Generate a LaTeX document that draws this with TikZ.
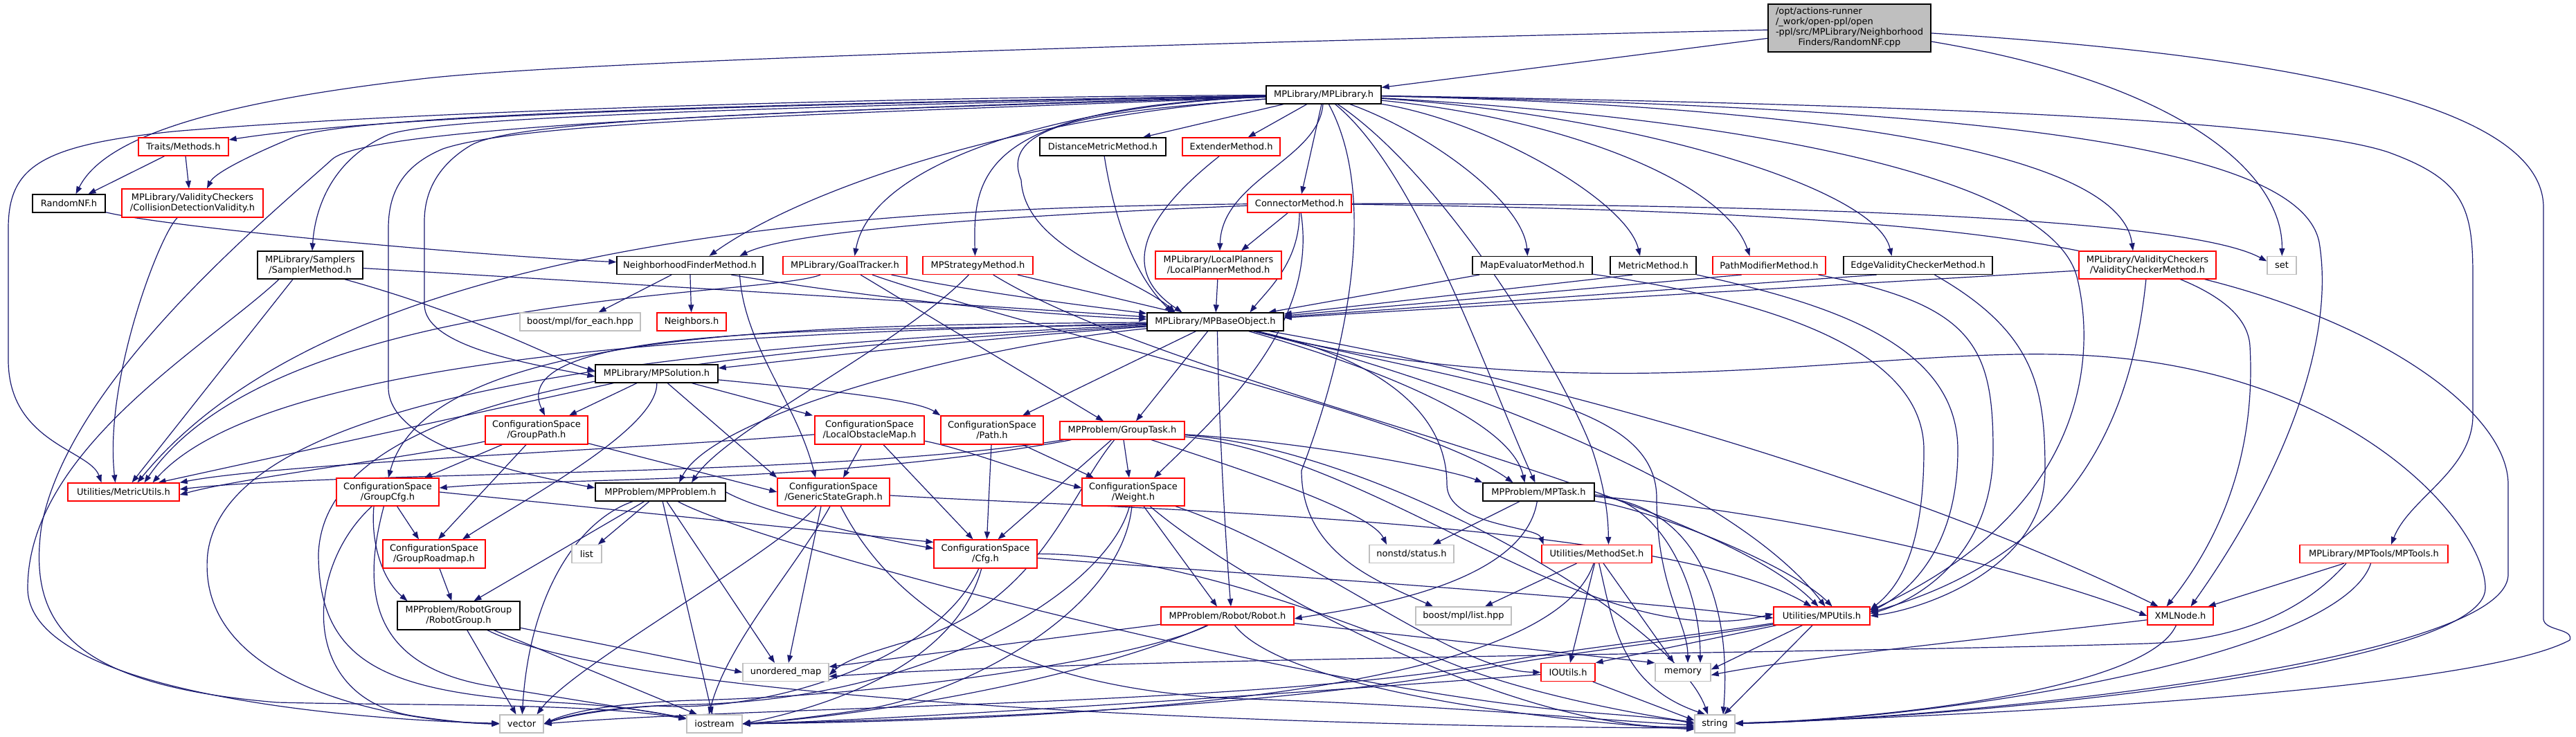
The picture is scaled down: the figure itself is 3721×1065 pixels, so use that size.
\documentclass[tikz,border=0pt]{standalone}
\usepackage{fontspec}
\setmainfont{DejaVu Sans}
\usetikzlibrary{arrows.meta}
\definecolor{navy}{HTML}{191970}
\definecolor{gbord}{HTML}{BFBFBF}
\definecolor{rootfill}{HTML}{BFBFBF}
\pgfdeclarelayer{background}
\pgfsetlayers{background,main}
\newcommand\nodefont{\fontsize{13}{15}\selectfont}
\newcommand\mk[7]{\node[#1, minimum width=#5pt, minimum height=#6pt] (#2) at (#3,#4) {#7};}
\tikzset{
  bx/.style={rectangle, inner sep=0pt, fill=white, line width=1.3pt, font=\nodefont, align=center, text=black},
  bk/.style={bx, draw=black},
  rd/.style={bx, draw=red},
  gy/.style={bx, draw=gbord},
  rt/.style={bx, draw=black, fill=rootfill},
  edg/.style={draw=navy, line width=1.2pt, -{Triangle[length=11pt,width=8pt]}},
}
\begin{document}
\begin{tikzpicture}[x=1pt,y=-1pt]
\useasboundingbox (0,0) rectangle (3721,1065);
% ---------------- nodes ----------------
\mk{rt}{R}{2671.5}{40.5}{235}{69}{\begin{tabular}{@{}l@{}}/opt/actions-runner\\/\_work/open-ppl/open\\-ppl/src/MPLibrary/Neighborhood\\\multicolumn{1}{@{}c@{}}{Finders/RandomNF.cpp}\end{tabular}}
\mk{bk}{M}{1912}{137}{166}{26}{MPLibrary/MPLibrary.h}
\mk{rd}{Traits}{265}{212}{130}{26}{Traits/Methods.h}
\mk{bk}{DM}{1593}{212}{182}{26}{DistanceMetricMethod.h}
\mk{rd}{Ext}{1778.5}{212}{141}{26}{ExtenderMethod.h}
\mk{rd}{Conn}{1877}{294}{150}{26}{ConnectorMethod.h}
\mk{bk}{RNFh}{99.5}{294}{105}{26}{RandomNF.h}
\mk{rd}{CDV}{278}{293.5}{204}{41}{MPLibrary/ValidityCheckers\\/CollisionDetectionValidity.h}
\mk{bk}{S}{448}{383}{152}{40}{MPLibrary/Samplers\\/SamplerMethod.h}
\mk{bk}{NFM}{996.5}{383.5}{211}{26}{NeighborhoodFinderMethod.h}
\mk{rd}{GT}{1220.5}{383.5}{179}{26}{MPLibrary/GoalTracker.h}
\mk{rd}{MPS}{1412.5}{383.5}{159}{26}{MPStrategyMethod.h}
\mk{rd}{LP}{1760}{383}{182}{40}{MPLibrary/LocalPlanners\\/LocalPlannerMethod.h}
\mk{bk}{ME}{2213.5}{383.5}{173}{26}{MapEvaluatorMethod.h}
\mk{bk}{MetM}{2388}{383.5}{124}{26}{MetricMethod.h}
\mk{rd}{PM}{2555.5}{383.5}{163}{26}{PathModifierMethod.h}
\mk{bk}{EVC}{2770.5}{383.5}{215}{26}{EdgeValidityCheckerMethod.h}
\mk{rd}{VCM}{3102}{383}{198}{40}{MPLibrary/ValidityCheckers\\/ValidityCheckerMethod.h}
\mk{gy}{set}{3296}{383.5}{42}{26}{set}
\mk{gy}{FE}{838}{465}{174}{26}{boost/mpl/for\_each.hpp}
\mk{rd}{Nb}{999}{465}{100}{26}{Neighbors.h}
\mk{bk}{B}{1755.5}{465}{197}{26}{MPLibrary/MPBaseObject.h}
\mk{bk}{Sol}{948.5}{540}{177}{26}{MPLibrary/MPSolution.h}
\mk{rd}{GPath}{775}{621.5}{148}{41}{ConfigurationSpace\\/GroupPath.h}
\mk{rd}{LOM}{1256}{621.5}{158}{41}{ConfigurationSpace\\/LocalObstacleMap.h}
\mk{rd}{Path}{1433}{621.5}{148}{41}{ConfigurationSpace\\/Path.h}
\mk{rd}{GTask}{1621}{622}{180}{26}{MPProblem/GroupTask.h}
\mk{rd}{MU}{178.5}{711}{161}{26}{Utilities/MetricUtils.h}
\mk{rd}{GCfg}{560}{711}{148}{40}{ConfigurationSpace\\/GroupCfg.h}
\mk{bk}{MPP}{954}{711}{188}{26}{MPProblem/MPProblem.h}
\mk{rd}{GSG}{1204}{711}{162}{40}{ConfigurationSpace\\/GenericStateGraph.h}
\mk{rd}{W}{1637}{711}{148}{40}{ConfigurationSpace\\/Weight.h}
\mk{bk}{Task}{2222.5}{711}{161}{26}{MPProblem/MPTask.h}
\mk{rd}{Cfg}{1423.5}{800.5}{149}{41}{ConfigurationSpace\\/Cfg.h}
\mk{rd}{GRm}{627}{800.5}{148}{41}{ConfigurationSpace\\/GroupRoadmap.h}
\mk{gy}{list}{847.5}{800.5}{43}{26}{list}
\mk{gy}{st}{2039}{800.5}{122}{26}{nonstd/status.h}
\mk{rd}{MS}{2306.5}{800.5}{159}{26}{Utilities/MethodSet.h}
\mk{rd}{Tools}{3429}{800.5}{214}{26}{MPLibrary/MPTools/MPTools.h}
\mk{bk}{RG}{662.5}{889.5}{177}{41}{MPProblem/RobotGroup\\/RobotGroup.h}
\mk{rd}{Rob}{1773}{890}{192}{26}{MPProblem/Robot/Robot.h}
\mk{gy}{ml}{2114}{890}{138}{26}{boost/mpl/list.hpp}
\mk{rd}{MPU}{2631.5}{890}{139}{26}{Utilities/MPUtils.h}
\mk{rd}{XML}{3149.5}{890}{95}{26}{XMLNode.h}
\mk{gy}{um}{1135}{971.5}{124}{26}{unordered\_map}
\mk{rd}{IO}{2265}{971.5}{78}{26}{IOUtils.h}
\mk{gy}{mem}{2431}{971.5}{80}{26}{memory}
\mk{gy}{vec}{753.5}{1046}{63}{26}{vector}
\mk{gy}{ios}{1032}{1046}{80}{26}{iostream}
\mk{gy}{str}{2477}{1046}{58}{26}{string}
% ---------------- edges ----------------
\begin{pgfonlayer}{background}
\fill[white] (0,0) rectangle (3721,1065);
% root
\draw[edg] (R) -- (M);
\draw[edg] (R) .. controls (1600,65) and (800,90) .. (600,115) .. controls (300,150) and (150,200) .. ([xshift=10pt]RNFh.north);
\draw[edg] (R) .. controls (3150,120) and (3298,250) .. (set);
\draw[edg] (R) .. controls (3300,80) and (3674,150) .. (3674,300) -- (3674,895) .. controls (3676,912) and (3718,908) .. (3712,925) .. controls (3600,985) and (3100,1025) .. (str);
% MPLibrary.h
\draw[edg] (M) .. controls (1300,148) and (600,160) .. ([yshift=10pt]Traits.east);
\draw[edg] (M) .. controls (1100,150) and (500,165) .. (420,200) .. controls (360,225) and (310,250) .. ([xshift=21pt]CDV.north);
\draw[edg] (M) .. controls (1300,140) and (600,160) .. (250,190) .. controls (60,210) and (12,240) .. (12,330) -- (12,520) .. controls (12,640) and (130,650) .. ([xshift=-32pt]MU.north);
\draw[edg] (M) .. controls (1100,155) and (620,170) .. (560,195) .. controls (480,230) and (455,300) .. ([xshift=3pt]S.north);
\draw[edg] (M) .. controls (1450,170) and (1150,280) .. ([xshift=28pt]NFM.north);
\draw[edg] (M) .. controls (1550,150) and (1260,230) .. ([xshift=14pt]GT.north);
\draw[edg] (M) .. controls (1420,155) and (1405,250) .. ([xshift=-4pt]MPS.north);
\draw[edg] (M) -- (DM);
\draw[edg] (M) -- (Ext);
\draw[edg] (M) -- (Conn);
\draw[edg] (M) .. controls (1905,230) and (1765,260) .. ([xshift=2pt]LP.north);
\draw[edg] (M) .. controls (1600,160) and (1440,175) .. (1475,260) .. controls (1480,360) and (1640,400) .. ([xshift=-58pt]B.north);
\draw[edg] (M) .. controls (2060,190) and (2200,290) .. ([xshift=-7pt]ME.north);
\draw[edg] (M) .. controls (2150,175) and (2350,290) .. ([xshift=-19pt]MetM.north);
\draw[edg] (M) .. controls (2250,170) and (2490,260) .. ([xshift=-28pt]PM.north);
\draw[edg] (M) .. controls (2350,165) and (2710,270) .. ([xshift=-38pt]EVC.north);
\draw[edg] (M) .. controls (2500,150) and (3060,200) .. ([xshift=-21pt]VCM.north);
\draw[edg] (M) .. controls (2700,150) and (3300,170) .. (3450,220) .. controls (3560,260) and (3572,300) .. (3572,400) -- (3572,600) .. controls (3572,680) and (3480,720) .. ([xshift=25pt]Tools.north);
\draw[edg] (M) .. controls (2800,155) and (3320,200) .. (3350,350) .. controls (3375,500) and (3290,700) .. ([xshift=15pt]XML.north);
\draw[edg] (M) .. controls (2500,170) and (2960,250) .. (3000,400) .. controls (3030,520) and (3010,740) .. ([yshift=8pt]MPU.east);
\draw[edg] (M) .. controls (1200,160) and (750,170) .. (680,210) .. controls (630,240) and (613,280) .. (613,320) -- (613,440) .. controls (613,500) and (760,525) .. ([yshift=-4pt]Sol.west);
\draw[edg] (M) .. controls (1200,165) and (760,175) .. (640,215) .. controls (580,240) and (561,280) .. (561,330) -- (561,560) .. controls (561,650) and (780,690) .. ([yshift=6pt]MPP.west);
\draw[edg] (M) .. controls (1100,160) and (530,185) .. (480,230) .. controls (380,320) and (100,550) .. (60,760) .. controls (40,900) and (100,990) .. (400,1015) .. controls (600,1020) and (850,1015) .. (ios);
\draw[edg] (M) .. controls (2050,250) and (2150,550) .. ([xshift=-5pt]Task.north);
\draw[edg] (M) .. controls (2080,250) and (2250,520) .. (2300,650) .. controls (2320,710) and (2323,750) .. ([xshift=17pt]MS.north);
\draw[edg] (M) .. controls (2000,300) and (1930,550) .. (1880,680) .. controls (1880,800) and (1990,840) .. ([xshift=-44pt]ml.north);
% small ones
\draw[edg] (Traits) -- ([xshift=28pt]RNFh.north);
\draw[edg] ([xshift=3pt]Traits.south) -- ([xshift=-5pt]CDV.north);
\draw[edg] (RNFh) .. controls (250,330) and (700,370) .. (NFM);
\draw[edg] (CDV) .. controls (230,340) and (150,550) .. ([xshift=-12pt]MU.north);
% connector
\draw[edg] (Conn) .. controls (1500,310) and (1150,330) .. ([xshift=72pt]NFM.north);
\draw[edg] (Conn) .. controls (1300,300) and (500,330) .. ([xshift=20pt]MU.north);
\draw[edg] (Conn) -- ([xshift=33pt]LP.north);
\draw[edg] (Conn) .. controls (1877,380) and (1830,420) .. ([xshift=50pt]B.north);
\draw[edg] (Conn) .. controls (1905,470) and (1760,600) .. ([xshift=30pt]W.north);
\draw[edg] (Conn) .. controls (2500,295) and (3150,310) .. ([yshift=6pt]set.west);
\draw[edg] (Conn) .. controls (2600,305) and (3240,330) .. (3250,500) .. controls (3260,680) and (3190,800) .. ([xshift=-20pt]XML.north);
% sampler
\draw[edg] (S) .. controls (900,410) and (1400,440) .. (B);
\draw[edg] ([xshift=-25pt]S.south) -- ([xshift=12pt]MU.north);
\draw[edg] ([xshift=-45pt]S.south) .. controls (300,500) and (40,650) .. (40,850) .. controls (40,1000) and (500,1040) .. (vec);
\draw[edg] ([xshift=50pt]S.south) .. controls (700,460) and (800,520) .. ([yshift=4pt]Sol.west);
% NFM
\draw[edg] (NFM) -- (FE);
\draw[edg] (NFM) -- (Nb);
\draw[edg] ([xshift=60pt]NFM.south) .. controls (1250,430) and (1500,455) .. (B);
\draw[edg] ([xshift=72pt]NFM.south) .. controls (1075,500) and (1150,580) .. ([xshift=-26pt]GSG.north);
% goal tracker
\draw[edg] (GT) .. controls (1400,420) and (1550,440) .. (B);
\draw[edg] (GT) -- ([xshift=-27pt]GTask.north);
\draw[edg] (GT) .. controls (1500,480) and (2050,600) .. ([xshift=-37pt]Task.north);
\draw[edg] (GT) .. controls (1100,430) and (400,420) .. ([xshift=30pt]MU.north);
% strategy
\draw[edg] (MPS) -- (B);
\draw[edg] (MPS) .. controls (1700,560) and (2450,700) .. ([xshift=-5pt]MPU.north);
\draw[edg] (MPS) .. controls (1300,500) and (1050,620) .. ([xshift=45pt]MPP.north);
% top row into MPBaseObject
\draw[edg] (LP) -- (B);
\draw[edg] (DM) .. controls (1610,320) and (1640,400) .. ([xshift=-62pt]B.north);
\draw[edg] (Ext) .. controls (1680,290) and (1600,380) .. ([xshift=-48pt]B.north);
\draw[edg] (ME) -- (B);
\draw[edg] ([xshift=-30pt]MetM.south) -- (B);
\draw[edg] ([xshift=-40pt]PM.south) -- (B);
\draw[edg] ([xshift=-60pt]EVC.south) -- (B);
\draw[edg] ([yshift=-8pt]VCM.west) -- (B);
% into MPUtils from the right
\draw[edg] (VCM) .. controls (3080,600) and (3000,800) .. ([yshift=5pt]MPU.east);
\draw[edg] (VCM) .. controls (3450,470) and (3623,600) .. (3623,700) -- (3623,830) .. controls (3623,960) and (2800,1040) .. (str);
\draw[edg] (ME) .. controls (2600,440) and (2779,520) .. (2779,650) .. controls (2779,800) and (2740,850) .. ([yshift=9pt]MPU.east);
\draw[edg] (MetM) .. controls (2650,440) and (2828,500) .. (2828,650) .. controls (2828,800) and (2750,860) .. ([yshift=6pt]MPU.east);
\draw[edg] (PM) .. controls (2850,440) and (2879,500) .. (2879,650) .. controls (2879,810) and (2760,870) .. ([yshift=3pt]MPU.east);
\draw[edg] (EVC) .. controls (2940,480) and (2954,560) .. (2954,680) .. controls (2954,820) and (2780,880) .. (MPU.east);
% MPBaseObject
\draw[edg] (B) .. controls (1400,490) and (1150,520) .. ([yshift=8pt]Sol.east);
\draw[edg] (B) .. controls (1300,480) and (720,460) .. ([xshift=12pt]GPath.north);
\draw[edg] (B) .. controls (1200,470) and (620,470) .. ([xshift=1pt]GCfg.north);
\draw[edg] (B) .. controls (1150,480) and (400,500) .. ([xshift=42pt]MU.north);
\draw[edg] (B) .. controls (1000,500) and (330,560) .. (300,800) .. controls (280,1000) and (600,1045) .. (vec);
\draw[edg] (B) .. controls (1000,510) and (470,560) .. (460,800) .. controls (460,960) and (560,1000) .. (800,1015) .. controls (900,1020) and (950,1030) .. (ios);
\draw[edg] (B) .. controls (1400,500) and (1030,600) .. ([xshift=27pt]MPP.north);
\draw[edg] (B) -- ([xshift=44pt]Path.north);
\draw[edg] (B) -- ([xshift=20pt]GTask.north);
\draw[edg] (B) .. controls (1950,520) and (2180,600) .. ([xshift=-20pt]Task.north);
\draw[edg] ([xshift=3pt]B.south) .. controls (1760,600) and (1770,780) .. ([xshift=5pt]Rob.north);
\draw[edg] (B) .. controls (2300,560) and (2800,720) .. ([xshift=-32pt]XML.north);
\draw[edg] (B) .. controls (2100,550) and (2500,700) .. ([xshift=5pt]MPU.north);
\draw[edg] (B) .. controls (2300,600) and (2700,500) .. (3000,513) .. controls (3400,530) and (3590,760) .. (3590,850) .. controls (3590,960) and (2900,1035) .. (str);
\draw[edg] (B) .. controls (2150,560) and (2393,580) .. (2393,720) .. controls (2393,850) and (2438,900) .. ([xshift=7pt]mem.north);
\draw[edg] (B) .. controls (2000,520) and (2090,600) .. (2090,700) .. controls (2090,760) and (2220,760) .. ([xshift=-77pt]MS.north);
% MPSolution
\draw[edg] (Sol) -- ([xshift=47pt]GPath.north);
\draw[edg] (Sol) -- ([xshift=-82pt]LOM.north);
\draw[edg] (Sol) .. controls (1150,560) and (1320,575) .. (Path.north west);
\draw[edg] (Sol) -- ([xshift=50pt]MU.north);
\draw[edg] (Sol) .. controls (950,620) and (760,720) .. ([xshift=41pt]GRm.north);
\draw[edg] (Sol) -- (GSG.north west);
% GroupPath
\draw[edg] (GPath) -- ([xshift=53pt]GCfg.north);
\draw[edg] ([xshift=-15pt]GPath.south) -- ([xshift=6pt]GRm.north);
\draw[edg] (GPath) -- (GSG.west);
\draw[edg] (GPath) .. controls (600,660) and (350,690) .. ([yshift=-4pt]MU.east);
% LocalObstacleMap
\draw[edg] (LOM) .. controls (1400,650) and (1500,690) .. ([yshift=6pt]W.west);
\draw[edg] (LOM) -- ([xshift=-18pt]Cfg.north);
\draw[edg] (LOM) -- ([xshift=14pt]GSG.north);
\draw[edg] (LOM) .. controls (900,650) and (400,670) .. (MU.north east);
% Path
\draw[edg] (Path) -- ([xshift=2pt]Cfg.north);
\draw[edg] ([xshift=44pt]Path.south) -- ([xshift=-57pt]W.north);
% GroupTask
\draw[edg] (GTask) .. controls (1200,690) and (500,680) .. ([yshift=4pt]MU.east);
\draw[edg] (GTask) .. controls (1200,700) and (800,690) .. ([yshift=6pt]GCfg.east);
\draw[edg] (GTask) -- ([xshift=-6pt]W.north);
\draw[edg] (GTask) -- ([xshift=18pt]Cfg.north);
\draw[edg] (GTask) .. controls (1900,640) and (2100,680) .. (Task.north west);
\draw[edg] (GTask) .. controls (1800,680) and (1980,740) .. ([xshift=-36pt]st.north);
\draw[edg] (GTask) .. controls (1540,720) and (1500,880) .. (1300,930) .. controls (1250,945) and (1220,955) .. ([yshift=-4pt]um.east);
\draw[edg] (GTask) .. controls (2000,650) and (2420,900) .. ([xshift=-10pt]str.north);
\draw[edg] (GTask) .. controls (2000,660) and (2300,950) .. ([yshift=3pt]MPU.west);
% Weight
\draw[edg] (W) -- ([xshift=-15pt]Rob.north);
\draw[edg] (W) .. controls (1800,850) and (2200,1060) .. ([yshift=-4pt]str.west);
\draw[edg] (W) .. controls (1900,800) and (2100,970) .. (IO.west);
\draw[edg] (W) .. controls (1600,850) and (1350,1010) .. (1000,1018) .. controls (900,1020) and (830,1030) .. (vec.east);
\draw[edg] (W) .. controls (1620,880) and (1400,1000) .. (1250,1025) .. controls (1150,1040) and (1100,1044) .. (ios.east);
% Cfg
\draw[edg] (Cfg) .. controls (1350,960) and (1100,1030) .. (950,1020) .. controls (870,1025) and (820,1035) .. (vec.east);
\draw[edg] (Cfg) .. controls (1380,960) and (1200,1020) .. (ios.east);
\draw[edg] (Cfg) .. controls (1700,800) and (1950,900) .. (2100,960) .. controls (2200,1000) and (2350,1030) .. ([yshift=2pt]str.west);
\draw[edg] (Cfg) .. controls (1800,830) and (2300,860) .. ([yshift=-3pt]MPU.west);
% GroupCfg
\draw[edg] (GCfg) -- ([xshift=-22pt]GRm.north);
\draw[edg] ([xshift=-20pt]GCfg.south) .. controls (535,790) and (555,840) .. ([xshift=-74pt]RG.north);
\draw[edg] (GCfg) .. controls (440,820) and (430,1010) .. (600,1035) .. controls (660,1044) and (700,1046) .. (vec);
\draw[edg] (GCfg) .. controls (520,860) and (540,960) .. (700,990) .. controls (850,1015) and (950,1030) .. (ios);
\draw[edg] (GCfg.east) -- ([yshift=17pt]Cfg.west);
% GroupRoadmap
\draw[edg] (GRm) -- ([xshift=-10pt]RG.north);
% MPProblem
\draw[edg] (MPP) -- ([xshift=22pt]RG.north);
\draw[edg] (MPP) -- (list);
\draw[edg] (MPP) -- ([xshift=-16pt]um.north);
\draw[edg] (MPP) .. controls (840,750) and (765,850) .. (vec);
\draw[edg] (MPP) -- (ios);
\draw[edg] (MPP) .. controls (1100,790) and (1900,1000) .. (2300,1030) .. controls (2380,1036) and (2420,1040) .. (str.west);
\draw[edg] (MPP.east) .. controls (1100,740) and (1250,775) .. ([yshift=8pt]Cfg.west);
% GenericStateGraph
\draw[edg] ([xshift=-18pt]GSG.south) -- ([xshift=4pt]um.north);
\draw[edg] ([xshift=-25pt]GSG.south) .. controls (1120,800) and (830,960) .. ([xshift=22pt]vec.north);
\draw[edg] ([xshift=-5pt]GSG.south) .. controls (1150,820) and (1050,930) .. ([xshift=-8pt]ios.north);
\draw[edg] (GSG) .. controls (1300,900) and (1500,1000) .. (1800,1010) .. controls (2100,1020) and (2300,1040) .. ([yshift=-2pt]str.west);
\draw[edg] (GSG) .. controls (1600,735) and (2400,750) .. ([xshift=-15pt]MPU.north);
% MPTask
\draw[edg] (Task) -- ([xshift=31pt]st.north);
\draw[edg] (Task) .. controls (2200,850) and (1950,880) .. ([yshift=-4pt]Rob.east);
\draw[edg] (Task) .. controls (2400,720) and (2456,850) .. ([xshift=25pt]mem.north);
\draw[edg] (Task) .. controls (2470,730) and (2500,900) .. ([xshift=12pt]str.north);
\draw[edg] (Task) .. controls (2400,740) and (2590,820) .. ([xshift=15pt]MPU.north);
\draw[edg] (Task) .. controls (2600,740) and (2950,830) .. (XML.west);
% MethodSet
\draw[edg] (MS) -- ([xshift=31pt]ml.north);
\draw[edg] ([xshift=-3pt]MS.south) -- ([xshift=3pt]IO.north);
\draw[edg] (MS) -- ([xshift=-13pt]mem.north);
\draw[edg] (MS) .. controls (2330,900) and (2340,990) .. ([xshift=-14pt]str.north);
\draw[edg] (MS) .. controls (2240,1000) and (1600,1040) .. (ios.east);
% Robot
\draw[edg] (Rob) -- (mem.north west);
\draw[edg] (Rob) .. controls (1850,990) and (2200,1040) .. ([yshift=-8pt]str.west);
\draw[edg] (Rob) -- ([yshift=8pt]um.east);
\draw[edg] (Rob) .. controls (1650,950) and (1300,1005) .. (1000,1012) .. controls (880,1016) and (820,1030) .. (vec.east);
\draw[edg] (Rob) .. controls (1600,970) and (1300,1030) .. (ios.east);
% RobotGroup
\draw[edg] (RG) -- (um.west);
\draw[edg] (RG) -- ([xshift=-8pt]vec.north);
\draw[edg] (RG) -- ([xshift=-25pt]ios.north);
\draw[edg] (RG) .. controls (900,1010) and (1800,1050) .. ([yshift=-6pt]str.west);
% IOUtils
\draw[edg] (IO) -- ([yshift=5pt]str.west);
\draw[edg] (IO) .. controls (1900,1000) and (1300,1040) .. (ios.east);
% MPUtils
\draw[edg] (MPU) -- ([yshift=4pt]mem.east);
\draw[edg] (MPU) -- (IO.north east);
\draw[edg] (MPU) -- (str);
\draw[edg] (MPU) .. controls (2400,925) and (2250,940) .. (2150,960) .. controls (1800,1020) and (1100,1020) .. (vec.east);
\draw[edg] (MPU) .. controls (2400,930) and (2250,945) .. (2150,965) .. controls (1800,1030) and (1300,1040) .. (ios.east);
% XMLNode
\draw[edg] (XML) .. controls (3100,1000) and (2700,1040) .. (str);
\draw[edg] (XML) .. controls (2900,920) and (2600,950) .. ([yshift=-4pt]mem.east);
% MPTools
\draw[edg] (Tools) -- ([xshift=40pt]XML.north);
\draw[edg] (Tools) .. controls (3380,950) and (2800,1040) .. (str);
\draw[edg] ([xshift=-40pt]Tools.south) .. controls (3330,880) and (3240,925) .. (3100,930) .. controls (2600,945) and (1600,950) .. ([yshift=-6pt]um.east);
\end{pgfonlayer}
\end{tikzpicture}
\end{document}
